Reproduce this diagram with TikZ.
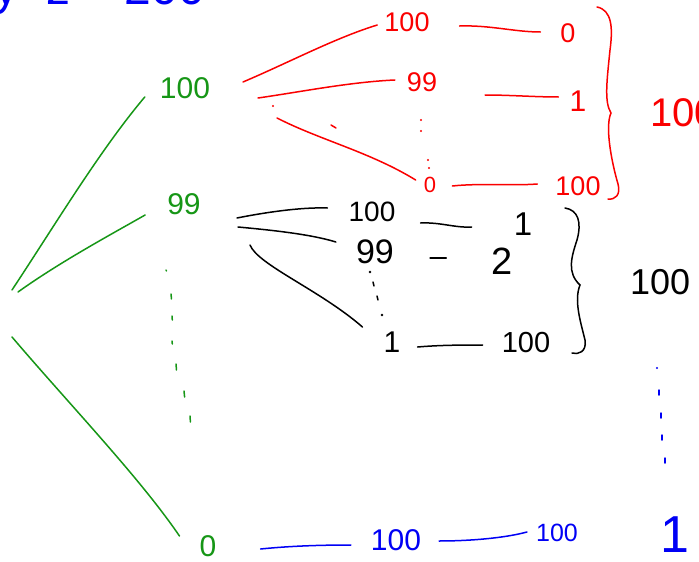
\documentclass[tikz,border=0pt]{standalone}
\usepackage{fontspec}
\setmainfont{Liberation Sans}
\usetikzlibrary{calc}
\definecolor{gcol}{RGB}{22,150,22}
\definecolor{rcol}{RGB}{250,0,0}
\definecolor{bcol}{RGB}{0,0,245}
\definecolor{kcol}{RGB}{0,0,0}
\newcommand{\fs}[1]{\fontsize{#1}{#1}\selectfont}
\tikzset{
  gl/.style={draw=gcol, line width=1.5pt, line cap=round},
  rl/.style={draw=rcol, line width=1.5pt, line cap=round},
  kl/.style={draw=kcol, line width=1.5pt, line cap=round},
  bl/.style={draw=bcol, line width=1.5pt, line cap=round},
  gt/.style={text=gcol, inner sep=0pt, font=\fs{30}},
  rt/.style={text=rcol, inner sep=0pt, font=\fs{27}},
  kt/.style={text=kcol, inner sep=0pt, font=\fs{28}},
  bt/.style={text=bcol, inner sep=0pt, font=\fs{28}},
}
\begin{document}
\begin{tikzpicture}[x=1pt,y=-1pt]
\useasboundingbox (0,0) rectangle (699,562);

% ---------- top equation (cut off) ----------
\node[bt, font=\fs{48}, anchor=base west] (eq) at (-58,5) {x+y+z = 200};

% ---------- green level ----------
\node[gt] (g100) at (185,88) {100};
\node[gt] (g99) at (184,204) {99};
\node[gt] (g0) at (208,546) {0};
\coordinate (groot) at (12,290);
\draw[gl] (groot) .. controls (55,225) and (100,150) .. ($(g100.west)+(-15,9)$);
\draw[gl] ($(groot)+(6,2)$) .. controls (60,262) and (110,235) .. ($(g99.west)+(-22,11)$);
\draw[gl] ($(groot)+(0,47)$) .. controls (70,405) and (140,478) .. ($(g0.west)+(-20,-10)$);
\foreach \x/\y/\dx/\dy in {166/270/0.5/1, 171/294/0.5/5, 172/316/0.3/4, 172/341/0.3/3, 176/364/0.5/6, 184/391/0.6/6, 190/416/0.4/6}
  \draw[gl] (\x,\y) -- ++(\dx,\dy);

% ---------- red branch (under 100) ----------
\node[rt] (r100) at (407,22) {100};
\node[rt] (r0a) at (568,33) {0};
\node[rt] (r99) at (422,82) {99};
\node[rt, font=\fs{30}] (r1) at (578,101) {1};
\node[rt, font=\fs{22}] (r0b) at (430,185) {0};
\node[rt] (r100b) at (578,186) {100};
\node[rt, font=\fs{40}, anchor=west] (r100r) at (650,113) {100};
\coordinate (rroot) at (243,82);
\draw[rl] (rroot) .. controls (290,62) and (335,38) .. ($(r100.west)+(-7,3)$);
\draw[rl] ($(rroot)+(15,16)$) .. controls (300,92) and (350,82) .. ($(r99.west)+(-12,-2)$);
\draw[rl] ($(rroot)+(34,36)$) .. controls (320,140) and (370,152) .. ($(r0b.west)+(-8,-5)$);
\fill[rcol] (273,106) circle (1.2);
\draw[rl] (331,125) -- (336,128);
\draw[rl] ($(r100.east)+(30,4)$) .. controls (490,25) and (515,32) .. ($(r0a.west)+(-20,-1)$);
\draw[rl] ($(r99.east)+(48,13)$) .. controls (510,95) and (535,97) .. ($(r1.west)+(-11,-4)$);
\draw[rl] ($(r0b.east)+(16,1)$) .. controls (480,183) and (510,186) .. ($(r100b.west)+(-18,-2)$);
\foreach \x/\y in {421/120, 421/131, 428/160, 429/168}
  \fill[rcol] (\x,\y) circle (1.2);
\draw[rl] (597,7) .. controls (612,10) and (613,28) .. (610,50)
  .. controls (607,80) and (604,102) .. (611,113)
  .. controls (605,126) and (611,160) .. (618,184)
  .. controls (621,195) and (615,200) .. (608,199);

% ---------- black branch (under 99) ----------
\node[kt, font=\fs{28}] (k100) at (372,212) {100};
\node[kt, font=\fs{33}] (k1) at (523,224) {1};
\node[kt, font=\fs{34}] (k99) at (375,252) {99};
\node[kt, font=\fs{38}] (k2) at (502,261) {2};
\node[kt, font=\fs{30}] (kb1) at (392,342) {1};
\node[kt, font=\fs{29}] (kb100) at (526,343) {100};
\node[kt, font=\fs{36}, anchor=west] (k100r) at (630,282) {100};
\coordinate (kroot) at (237,218);
\draw[kl] (kroot) .. controls (262,213) and (300,207) .. ($(k100.west)+(-21,-4)$);
\draw[kl] ($(kroot)+(1,9)$) .. controls (270,230) and (310,234) .. ($(k99.west)+(-20,-10)$);
\draw[kl] ($(kroot)+(13,27)$) .. controls (258,265) and (320,290) .. ($(kb1.west)+(-21,-15)$);
\draw[kl] ($(k100.east)+(25,11)$) .. controls (440,222) and (455,228) .. ($(k1.west)+(-42,3)$);
\draw[kl] ($(k99.east)+(36,6)$) -- ($(k2.west)+(-45,-3)$);
\draw[kl] ($(kb1.east)+(17,5)$) .. controls (440,345) and (465,345) .. ($(kb100.west)+(-19,2)$);
\fill[kcol] (370,272) circle (1.3);
\draw[kl] (373,282) -- (374,286);
\draw[kl] (377,296) -- (378,300);
\fill[kcol] (382,315) circle (1.3);
\draw[kl] (565,208) .. controls (578,210) and (582,222) .. (577,240)
  .. controls (571,258) and (567,273) .. (580,285)
  .. controls (574,300) and (580,320) .. (585,340)
  .. controls (587,352) and (578,355) .. (572,353);

% ---------- blue branch (under 0) ----------
\node[bt, font=\fs{30}] (b100) at (396,540) {100};
\node[bt, font=\fs{25}] (b100s) at (557,533) {100};
\node[bt, font=\fs{52}] (b1r) at (675,535) {1};
\draw[bl] ($(g0.east)+(44,3)$) .. controls (290,546) and (320,545) .. ($(b100.west)+(-20,5)$);
\draw[bl] ($(b100.east)+(18,1)$) .. controls (470,541) and (505,538) .. ($(b100s.west)+(-9,-1)$);
\fill[bcol] (657,368) circle (1.2);
\foreach \x/\y in {659/390, 661/413, 662/435, 665/458}
  \draw[bl] (\x,\y) -- ++(0,5);
\end{tikzpicture}
\end{document}
